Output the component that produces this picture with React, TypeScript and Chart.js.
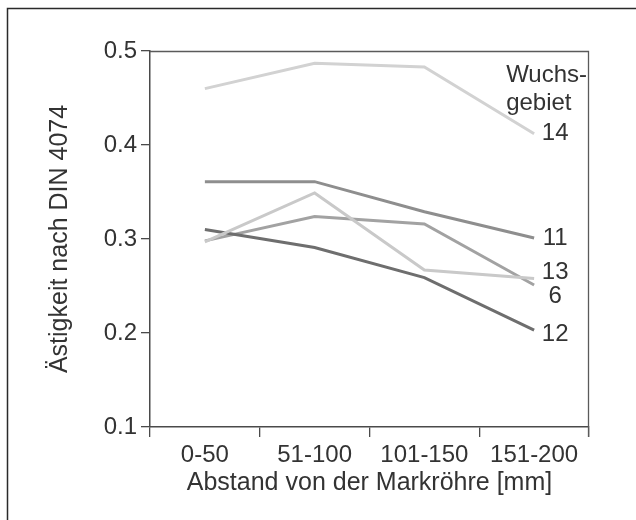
import React, { useEffect, useRef } from "react";
import { Chart, registerables } from "chart.js";

Chart.register(...registerables);

const categories = ["0-50", "51-100", "101-150", "151-200"];
const seriesNames = ["14", "11", "13", "6", "12"];
const s14 = [0.46, 0.487, 0.483, 0.412];
const s11 = [0.361, 0.361, 0.329, 0.301];
const s13 = [0.297, 0.349, 0.267, 0.258];
const s6 = [0.298, 0.324, 0.316, 0.251];
const s12 = [0.31, 0.291, 0.259, 0.203];
const yTicks = [0.1, 0.2, 0.3, 0.4, 0.5];
const legendTitle = ["Wuchs-", "gebiet"];
const xTitle = "Abstand von der Markröhre [mm]";
const yTitle = "Ästigkeit nach DIN 4074";

const FONT = "'Liberation Sans', Arial, Helvetica, sans-serif";
const TEXT = "#333333";
const AXIS = "#4a4a4a";

const seriesColors = ["#d2d2d2", "#8e8e8e", "#c9c9c9", "#a2a2a2", "#6e6e6e"];
const labelDy = [0, 0, -6, 11, 4];

export default function App() {
  const ref = useRef<HTMLCanvasElement | null>(null);

  useEffect(() => {
    const canvas = ref.current;
    if (!canvas) return;
    const all = [s14, s11, s13, s6, s12];
    const order = [3, 4, 0, 2, 1];

    const overlay = {
      id: "overlay",
      afterDraw(chart: any) {
        const ctx = chart.ctx;
        const { left, right, top, bottom } = chart.chartArea;
        const xs = chart.scales.x;
        const ys = chart.scales.y;
        ctx.save();
        // outer frame
        ctx.strokeStyle = "#2a2a2a";
        ctx.lineWidth = 1.5;
        ctx.beginPath();
        ctx.moveTo(7.5, 520);
        ctx.lineTo(7.5, 8.5);
        ctx.lineTo(636, 8.5);
        ctx.stroke();
        // top and right plot border
        ctx.strokeStyle = "#5a5a5a";
        ctx.lineWidth = 1.3;
        ctx.beginPath();
        ctx.moveTo(left, top + 0.5);
        ctx.lineTo(right - 0.5, top + 0.5);
        ctx.lineTo(right - 0.5, bottom + 10);
        ctx.stroke();
        // series labels
        ctx.fillStyle = TEXT;
        ctx.font = `24px ${FONT}`;
        ctx.textAlign = "center";
        ctx.textBaseline = "middle";
        const lastIdx = categories.length - 1;
        const lx = xs.getPixelForValue(lastIdx) + 21;
        seriesNames.forEach((name, i) => {
          const y = ys.getPixelForValue(all[i][lastIdx]) + labelDy[i];
          ctx.fillText(name, lx, y);
        });
        // legend title
        ctx.textAlign = "left";
        ctx.textBaseline = "alphabetic";
        const tx = xs.getPixelForValue(lastIdx) - 28;
        ctx.fillText(legendTitle[0], tx, top + 31);
        ctx.fillText(legendTitle[1], tx, top + 59);
        ctx.restore();
      },
    };

    const chart = new Chart(canvas, {
      type: "line",
      data: {
        labels: categories,
        datasets: all.map((d, i) => ({
          label: seriesNames[i],
          data: d,
          borderColor: seriesColors[i],
          backgroundColor: seriesColors[i],
          borderWidth: 3,
          pointRadius: 0,
          tension: 0,
          fill: false,
          order: order[i],
        })),
      },
      options: {
        responsive: false,
        animation: false,
        events: [],
        layout: { padding: { left: 40, right: 47, top: 51, bottom: 19 } },
        plugins: {
          legend: { display: false },
          tooltip: { enabled: false },
          title: { display: false },
        },
        scales: {
          x: {
            type: "category",
            offset: true,
            grid: {
              offset: true,
              drawOnChartArea: false,
              drawTicks: true,
              tickLength: 10,
              color: AXIS,
              lineWidth: 1.3,
            },
            border: { display: true, color: AXIS, width: 1.5 },
            ticks: {
              color: TEXT,
              font: { family: FONT, size: 24 },
              padding: 4,
              maxRotation: 0,
              autoSkip: false,
            },
            title: {
              display: true,
              text: xTitle,
              color: TEXT,
              font: { family: FONT, size: 25 },
              padding: { top: 0, bottom: 3 },
            },
            afterFit(scale: any) {
              scale.height = 74;
            },
          },
          y: {
            type: "linear",
            min: 0.1,
            max: 0.5,
            afterBuildTicks(scale: any) {
              scale.ticks = yTicks.map((v) => ({ value: v }));
            },
            grid: {
              drawOnChartArea: false,
              drawTicks: true,
              tickLength: 9,
              color: AXIS,
              lineWidth: 1.3,
            },
            border: { display: true, color: AXIS, width: 1.5 },
            ticks: {
              color: TEXT,
              font: { family: FONT, size: 24 },
              padding: 4,
              callback: (v: any) => Number(v).toFixed(1),
            },
            title: {
              display: true,
              text: yTitle,
              color: TEXT,
              font: { family: FONT, size: 25 },
              padding: { top: 5, bottom: 0 },
            },
            afterFit(scale: any) {
              scale.width = 110;
            },
          },
        },
      },
      plugins: [overlay],
    });
    return () => chart.destroy();
  }, []);

  return (
    <div style={{ position: "absolute", left: 0, top: 0, width: 636, height: 520, background: "#fff" }}>
      <canvas ref={ref} width={636} height={520} style={{ width: 636, height: 520, display: "block" }} />
    </div>
  );
}
